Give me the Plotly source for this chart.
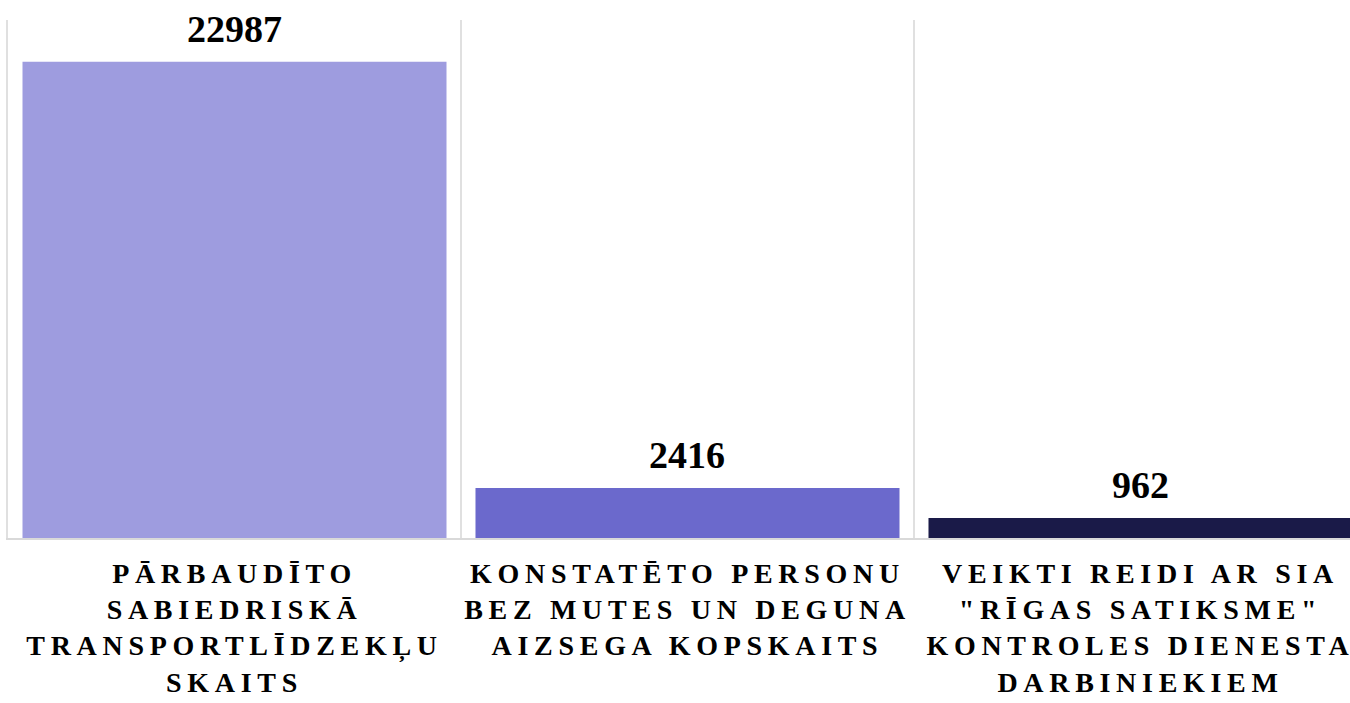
import plotly.graph_objects as go

categories = [
    "PĀRBAUDĪTO<br>SABIEDRISKĀ<br>TRANSPORTLĪDZEKĻU<br>SKAITS",
    "KONSTATĒTO PERSONU<br>BEZ MUTES UN DEGUNA<br>AIZSEGA KOPSKAITS",
    "VEIKTI REIDI AR SIA<br>\"RĪGAS SATIKSME\"<br>KONTROLES DIENESTA<br>DARBINIEKIEM",
]
values = [22987, 2416, 962]
colors = ["#9e9cdf", "#6b69cc", "#1a1a48"]

FONT = "Liberation Serif, Times New Roman, serif"

tick_text = ["<br>".join(f"<b>{ln}</b>" for ln in c.split("<br>")) for c in categories]

fig = go.Figure(
    go.Bar(
        x=categories,
        y=values,
        marker=dict(color=colors, line=dict(width=0)),
        hoverinfo="skip",
    )
)

for c, v in zip(categories, values):
    fig.add_annotation(
        x=c, y=v, text=f"<b>{v}</b>", showarrow=False,
        yanchor="bottom", yshift=10,
        font=dict(family=FONT, size=38, color="#000000"),
    )

fig.update_layout(
    width=1350, height=703,
    margin=dict(l=8, r=0, t=20, b=165, autoexpand=False),
    paper_bgcolor="white", plot_bgcolor="white",
    bargap=0.064,
    showlegend=False,
    xaxis=dict(
        type="category",
        range=[-0.5, 2.4625],
        tickson="boundaries",
        tickvals=categories, ticktext=tick_text,
        showgrid=True, gridcolor="#e0e0e0", gridwidth=2,
        showline=True, linecolor="#d9d9d9", linewidth=2,
        ticks="", tickangle=0, automargin=False,
        tickfont=dict(family=FONT, size=28, color="#000000"),
        ticklabelstandoff=9,
    ),
    yaxis=dict(range=[0, 25000], showgrid=False, zeroline=False,
               showticklabels=False, showline=True,
               linecolor="#e0e0e0", linewidth=2, automargin=False),
)

post = """
var s=document.createElement('style');
s.innerHTML='html,body{margin:0;padding:0;overflow:hidden;} .xtick text{letter-spacing:5.7px;}';
document.head.appendChild(s);
"""
fig.write_html("out.html", post_script=post, config={"displayModeBar": False})
